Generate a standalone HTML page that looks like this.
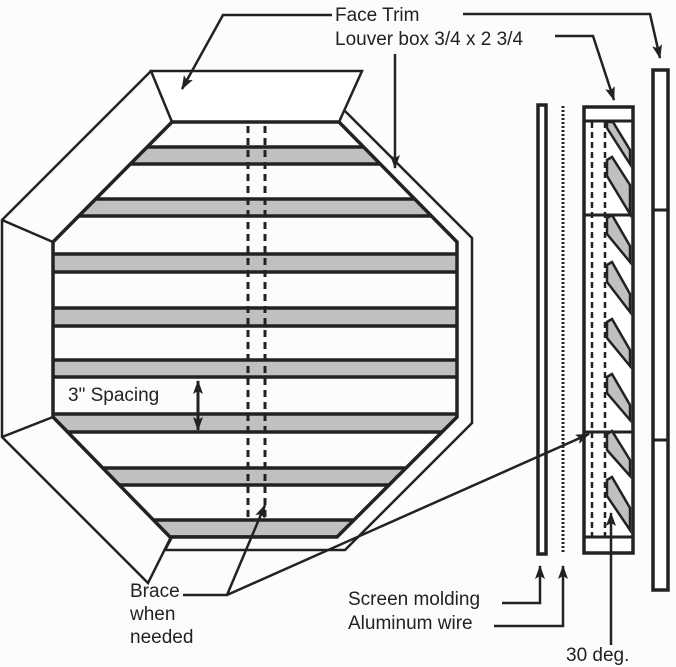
<!DOCTYPE html>
<html><head><meta charset="utf-8"><style>
html,body{margin:0;padding:0;background:#fcfcfc;}
svg{display:block;}
text{font-family:"Liberation Sans",Arial,sans-serif;font-size:19px;fill:#222;}
</style></head><body>
<svg width="676" height="667" viewBox="0 0 676 667" xmlns="http://www.w3.org/2000/svg">
<defs>
<marker id="ah" markerWidth="14" markerHeight="10" refX="13" refY="5" orient="auto" markerUnits="userSpaceOnUse">
<path d="M0,0 L14,5 L0,10 L3,5 Z" fill="#222"/>
</marker>
<clipPath id="oct"><polygon points="172,122 339,122 457,242 457,417 337,537 170,537 53,417 53,242"/></clipPath>
</defs>
<g fill="none" stroke="#222" stroke-width="2.5">
<polygon points="151,71 362,71 339,122 172,122" fill="#fff"/>
<polyline points="151,71 2,220 2,437 148,583 171,537"/>
<line x1="2" y1="220" x2="53" y2="242"/>
<line x1="2" y1="437" x2="53" y2="417"/>
<polyline points="345,111 472,238 472,423 345,550 165,550 172,537"/>
</g>
<g clip-path="url(#oct)" stroke="#222" stroke-width="3.5">
<rect x="40" y="147" width="430" height="17" fill="#c0c0c0"/>
<rect x="40" y="199" width="430" height="17" fill="#c0c0c0"/>
<rect x="40" y="254" width="430" height="18" fill="#c0c0c0"/>
<rect x="40" y="308" width="430" height="18" fill="#c0c0c0"/>
<rect x="40" y="360" width="430" height="17" fill="#c0c0c0"/>
<rect x="40" y="414" width="430" height="18" fill="#c0c0c0"/>
<rect x="40" y="468" width="430" height="17" fill="#c0c0c0"/>
<rect x="40" y="520" width="430" height="17" fill="#c0c0c0"/>
</g>
<polygon points="172,122 339,122 457,242 457,417 337,537 170,537 53,417 53,242" fill="none" stroke="#222" stroke-width="3.5"/>
<g stroke="#222" stroke-width="3" stroke-dasharray="7,5">
<line x1="248" y1="126" x2="248" y2="518"/>
<line x1="265" y1="126" x2="265" y2="518"/>
</g>
<text x="68" y="401">3" Spacing</text>
<line x1="198" y1="392" x2="198" y2="381" stroke="#222" stroke-width="3" marker-end="url(#ah)"/>
<line x1="198" y1="400" x2="198" y2="430" stroke="#222" stroke-width="3" marker-end="url(#ah)"/>
<line x1="198" y1="392" x2="198" y2="420" stroke="#222" stroke-width="3"/>
<text x="335" y="21">Face Trim</text>
<text x="335" y="45">Louver box 3/4 x 2 3/4</text>
<g fill="none" stroke="#222" stroke-width="2.5">
<polyline points="332,15 223,15 182,89" marker-end="url(#ah)"/>
<polyline points="463,14 650,14 660,58" marker-end="url(#ah)"/>
<polyline points="555,36 593,36 614,100" marker-end="url(#ah)"/>
<line x1="395" y1="54" x2="395" y2="168" marker-end="url(#ah)"/>
</g>
<g fill="#fff" stroke="#222" stroke-width="3.5">
<rect x="538" y="105" width="8" height="449"/>
<rect x="584" y="107" width="49" height="446"/>
<rect x="653" y="70" width="15" height="520"/>
</g>
<line x1="563" y1="106" x2="563" y2="553" stroke="#222" stroke-width="3" stroke-dasharray="2,2"/>
<g stroke="#222" stroke-width="3">
<line x1="584" y1="121" x2="633" y2="121"/>
<line x1="584" y1="537" x2="633" y2="537"/>
<line x1="584" y1="215" x2="633" y2="215"/>
<line x1="584" y1="432" x2="633" y2="432"/>
<line x1="653" y1="210" x2="668" y2="210"/>
<line x1="653" y1="440" x2="668" y2="440"/>
</g>
<g stroke="#222" stroke-width="2.5" stroke-dasharray="6,4">
<line x1="592" y1="122" x2="592" y2="536"/>
<line x1="605" y1="122" x2="605" y2="536"/>
</g>
<g fill="#c0c0c0" stroke="#222" stroke-width="2.5">
<polygon points="607,122 613,122 630,150 630,164 607,128"/>
<polygon points="607,160 612,157 630,185 630,214 607,176"/>
<polygon points="607,218 612,215 630,246 630,262 607,234"/>
<polygon points="607,265 612,262 630,294 630,312 607,282"/>
<polygon points="607,322 612,319 630,350 630,366 607,338"/>
<polygon points="607,377 612,374 630,405 630,420 607,393"/>
<polygon points="607,434 612,431 630,460 630,476 607,450"/>
<polygon points="607,480 612,477 630,508 630,530 607,496"/>
</g>
<text x="130" y="597">Brace</text>
<text x="130" y="620">when</text>
<text x="130" y="643">needed</text>
<text x="348" y="605">Screen molding</text>
<text x="348" y="629">Aluminum wire</text>
<text x="566" y="661">30 deg.</text>
<g fill="none" stroke="#222" stroke-width="2.5">
<polyline points="183,595 227,595 265,505" marker-end="url(#ah)"/>
<line x1="227" y1="595" x2="589" y2="434" marker-end="url(#ah)"/>
<polyline points="502,603 540,603 540,566" marker-end="url(#ah)"/>
<polyline points="494,626 563,626 563,566" marker-end="url(#ah)"/>
<line x1="611" y1="645" x2="611" y2="513" marker-end="url(#ah)"/>
</g>
</svg>
</body></html>
